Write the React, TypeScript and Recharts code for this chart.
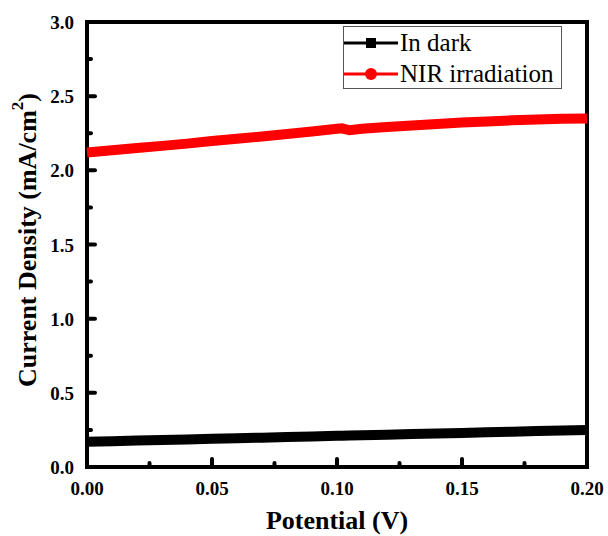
import React from 'react';
import { LineChart, Line, XAxis, YAxis, ReferenceArea } from 'recharts';

const potentials = [0, 0.01, 0.02, 0.03, 0.04, 0.05, 0.06, 0.07, 0.08, 0.09, 0.1, 0.102, 0.105, 0.11, 0.12, 0.13, 0.14, 0.15, 0.16, 0.17, 0.18, 0.19, 0.2];
const darkCurrent = [0.17, 0.174, 0.178, 0.182, 0.186, 0.19, 0.194, 0.198, 0.202, 0.206, 0.21, 0.211, 0.212, 0.214, 0.218, 0.222, 0.226, 0.23, 0.234, 0.238, 0.242, 0.246, 0.25];
const nirCurrent = [2.12, 2.135, 2.15, 2.165, 2.18, 2.198, 2.213, 2.228, 2.245, 2.262, 2.28, 2.283, 2.27, 2.28, 2.292, 2.303, 2.313, 2.322, 2.33, 2.337, 2.343, 2.347, 2.35];

const xTicks = [0, 0.025, 0.05, 0.075, 0.1, 0.125, 0.15, 0.175, 0.2];
const xMajor = [0, 0.05, 0.1, 0.15, 0.2];
const yTicks = [0, 0.25, 0.5, 0.75, 1, 1.25, 1.5, 1.75, 2, 2.25, 2.5, 2.75, 3];
const yMajor = [0, 0.5, 1, 1.5, 2, 2.5, 3];

const seriesNames = ['In dark', 'NIR irradiation'];

const data = potentials.map((p, i) => ({ p, dark: darkCurrent[i], nir: nirCurrent[i] }));

const serif = '"Liberation Serif", "Times New Roman", serif';

const isMajor = (list: number[], v: number) => list.some(m => Math.abs(m - v) < 1e-9);

const XTick = (props: any) => {
  const { x, y, payload } = props;
  const major = isMajor(xMajor, payload.value);
  return (
    <g>
      <line x1={x} x2={x} y1={y} y2={y - (major ? 8 : 4)} stroke="#000" strokeWidth={4} strokeLinecap="round" />
      {major && (
        <text x={x} y={y + 28} textAnchor="middle" fontFamily={serif} fontWeight="bold" fontSize={19} fill="#000">
          {payload.value.toFixed(2)}
        </text>
      )}
    </g>
  );
};

const YTick = (props: any) => {
  const { x, y, payload } = props;
  const major = isMajor(yMajor, payload.value);
  return (
    <g>
      <line x1={x} x2={x + (major ? 8 : 4)} y1={y} y2={y} stroke="#000" strokeWidth={4} strokeLinecap="round" />
      {major && (
        <text x={x - 13} y={y + 7} textAnchor="end" fontFamily={serif} fontWeight="bold" fontSize={19} fill="#000">
          {payload.value.toFixed(1)}
        </text>
      )}
    </g>
  );
};

const LegendBox = () => (
  <div style={{ position: 'absolute', top: 26, left: 343, border: '1px solid #555', background: '#fff', width: 219, height: 63, boxSizing: 'border-box', fontFamily: serif, fontSize: 25, paddingTop: 0 }}>
    {seriesNames.map((name, i) => (
      <div key={name} style={{ display: 'flex', alignItems: 'center', height: 31, lineHeight: '31px' }}>
        <svg width={54} height={20} style={{ marginLeft: 0, flex: 'none' }}>
          <line x1={0} x2={54} y1={10} y2={10} stroke={i === 0 ? '#000' : '#f00'} strokeWidth={3} />
          {i === 0 ? <rect x={22} y={5} width={10} height={10} fill="#000" /> : <circle cx={27} cy={10} r={6} fill="#f00" />}
        </svg>
        <span style={{ marginLeft: 2, whiteSpace: 'nowrap' }}>{name}</span>
      </div>
    ))}
  </div>
);

export default function App() {
  return (
    <div style={{ position: 'absolute', top: 0, left: 0, background: '#fff', width: 608, height: 536 }}>
      <LineChart width={608} height={536} data={data} margin={{ top: 22, right: 21, left: 0, bottom: 0 }} style={{ overflow: 'visible' }}>
        <XAxis
          dataKey="p"
          type="number"
          domain={[0, 0.2]}
          ticks={xTicks}
          interval={0}
          height={69}
          axisLine={false}
          tickLine={false}
          tickSize={0}
          tickMargin={0}
          tick={<XTick />}
          label={{ value: 'Potential (V)', position: 'insideBottom', offset: 7, fontFamily: serif, fontWeight: 'bold', fontSize: 26, fill: '#000' }}
        />
        <YAxis
          type="number"
          domain={[0, 3]}
          ticks={yTicks}
          interval={0}
          width={87}
          axisLine={false}
          tickLine={false}
          tickSize={0}
          tickMargin={0}
          tick={<YTick />}
          label={() => {
            const cx = 27;
            const cy = 240;
            return (
              <text x={cx} y={cy} transform={`rotate(-90 ${cx} ${cy})`} textAnchor="middle" dominantBaseline="central" fontFamily={serif} fontWeight="bold" fontSize={26} fill="#000">
                Current Density (mA/cm<tspan dy={-10} fontSize={17}>2</tspan><tspan dy={10}>)</tspan>
              </text>
            );
          }}
        />
        <Line dataKey="dark" stroke="#000" strokeWidth={10} dot={false} isAnimationActive={false} strokeLinecap="butt" />
        <Line dataKey="nir" stroke="#f00" strokeWidth={10} dot={false} isAnimationActive={false} strokeLinecap="butt" />
        <ReferenceArea x1={0} x2={0.2} y1={0} y2={3} fill="none" stroke="#000" strokeWidth={4} ifOverflow="visible" />
      </LineChart>
      <LegendBox />
    </div>
  );
}
